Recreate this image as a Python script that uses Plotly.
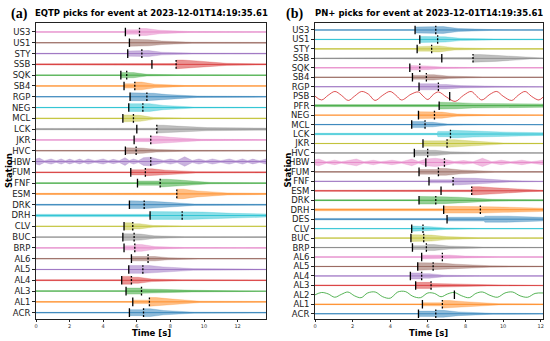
import plotly.graph_objects as go

TAB10 = ["#1f77b4", "#ff7f0e", "#2ca02c", "#d62728", "#9467bd",
         "#8c564b", "#e377c2", "#7f7f7f", "#bcbd22", "#17becf"]

# ---------------- Panel (a): EQTP ----------------
stations_a = ["US3", "US1", "STY", "SSB", "SQK", "SB4", "RGP", "NEG", "MCL",
              "LCK", "JKR", "HVC", "HBW", "FUM", "FNF", "ESM", "DRK", "DRH",
              "CLV", "BUC", "BRP", "AL6", "AL5", "AL4", "AL3", "AL1", "ACR"]
p_a = [5.32, 5.56, 5.46, 6.90, 5.05, 5.24, 5.60, 5.52, 5.17,
       6.00, 5.84, 5.32, 5.60, 5.64, 6.04, 7.50, 5.56, 6.79,
       5.24, 5.17, 5.24, 5.68, 5.52, 5.10, 5.36, 5.76, 5.56]
s_a = [6.16, 6.30, 6.30, 8.34, 5.40, 5.88, 6.60, 6.36, 5.80,
       7.19, 6.83, 5.96, 6.83, 6.51, 7.39, 8.38, 6.44, 8.70,
       5.76, 5.84, 5.88, 6.67, 6.36, 5.68, 6.28, 6.75, 6.40]
hidden_a = [("US1", "S"), ("HBW", "P"), ("ESM", "P")]
# envelope half-amplitudes (row units): noise, after P, at S, 1 s after S, 3 s after S, end
env_a = [[0.03, 0.25, 0.40, 0.20, 0.05, 0.03],
         [0.03, 0.40, 0.35, 0.20, 0.06, 0.04],
         [0.04, 0.30, 0.35, 0.15, 0.06, 0.05],
         [0.06, 0.10, 0.50, 0.40, 0.12, 0.06],
         [0.03, 0.30, 0.30, 0.10, 0.04, 0.03],
         [0.03, 0.25, 0.45, 0.20, 0.05, 0.03],
         [0.03, 0.45, 0.40, 0.25, 0.08, 0.04],
         [0.03, 0.45, 0.45, 0.25, 0.06, 0.03],
         [0.04, 0.40, 0.35, 0.10, 0.04, 0.04],
         [0.08, 0.10, 0.45, 0.35, 0.18, 0.12],
         [0.03, 0.20, 0.45, 0.30, 0.08, 0.03],
         [0.04, 0.35, 0.30, 0.15, 0.05, 0.04],
         None,
         [0.05, 0.30, 0.40, 0.25, 0.08, 0.06],
         [0.03, 0.25, 0.45, 0.35, 0.08, 0.04],
         [0.07, 0.10, 0.55, 0.35, 0.12, 0.07],
         [0.05, 0.45, 0.40, 0.30, 0.08, 0.05],
         [0.14, 0.45, 0.45, 0.40, 0.25, 0.18],
         [0.03, 0.40, 0.30, 0.10, 0.03, 0.03],
         [0.03, 0.40, 0.35, 0.15, 0.05, 0.04],
         [0.03, 0.25, 0.40, 0.15, 0.04, 0.03],
         [0.03, 0.25, 0.25, 0.12, 0.03, 0.03],
         [0.03, 0.45, 0.45, 0.30, 0.10, 0.04],
         [0.05, 0.45, 0.35, 0.15, 0.05, 0.04],
         [0.03, 0.35, 0.25, 0.20, 0.10, 0.04],
         [0.05, 0.20, 0.50, 0.35, 0.08, 0.05],
         [0.04, 0.35, 0.45, 0.25, 0.06, 0.04]]
hbw_a_t = [0, 0.2, 0.5, 0.9, 1.2, 1.5, 1.75, 2.0, 2.3, 2.6,
           2.85, 3.1, 3.5, 4.0, 4.3, 4.6, 4.95, 5.3, 5.55, 5.8,
           6.1, 6.4, 6.8, 7.2, 7.6, 8.0, 8.4, 8.85, 9.3, 9.7,
           10.1, 10.5, 11.0, 11.5, 11.9, 12.3, 12.6, 12.9, 13.3, 13.7]
hbw_a_amp = [0.3, 0.4, 0.1, 0.3, 0.1, 0.3, 0.1, 0.28, 0.1, 0.28,
             0.1, 0.3, 0.1, 0.3, 0.1, 0.25, 0.1, 0.45, 0.12, 0.3,
             0.12, 0.45, 0.5, 0.35, 0.12, 0.3, 0.12, 0.55, 0.12, 0.3,
             0.1, 0.3, 0.1, 0.3, 0.1, 0.3, 0.1, 0.28, 0.1, 0.3]

# ---------------- Panel (b): PN+ ----------------
stations_b = ["US3", "US1", "STY", "SSB", "SQK", "SB4", "RGP", "PSB", "PFR",
              "NEG", "MCL", "LCK", "JKR", "HVC", "HBW", "FUM", "FNF", "ESM",
              "DRK", "DRH", "DES", "CLV", "BUC", "BRP", "AL6", "AL5", "AL4",
              "AL3", "AL2", "AL1", "ACR"]
p_b = [5.32, 5.57, 5.43, 6.74, 5.04, 5.18, 5.53, 7.16, 6.60,
       5.50, 5.14, 6.50, 5.74, 5.28, 5.89, 5.53, 6.06, 6.70,
       5.53, 6.84, 7.02, 5.14, 5.10, 5.18, 5.67, 5.46, 5.07,
       5.35, 7.41, 5.71, 5.50]
s_b = [6.42, 6.52, 6.20, 8.40, 5.57, 5.92, 6.56, 7.16, 7.20,
       6.35, 5.85, 7.20, 7.02, 5.99, 6.88, 6.56, 7.34, 8.33,
       6.42, 8.79, 9.00, 5.74, 5.78, 5.92, 6.77, 6.28, 5.67,
       6.17, 7.41, 6.77, 6.42]
hidden_b = [("PSB", "S"), ("PFR", "S"), ("LCK", "P"), ("DES", "S"), ("AL2", "S")]
env_b = [[0.03, 0.40, 0.45, 0.20, 0.05, 0.04],
         [0.03, 0.40, 0.35, 0.15, 0.06, 0.04],
         [0.05, 0.30, 0.40, 0.15, 0.05, 0.05],
         [0.04, 0.12, 0.50, 0.40, 0.10, 0.05],
         [0.03, 0.30, 0.25, 0.10, 0.03, 0.03],
         [0.03, 0.25, 0.35, 0.15, 0.04, 0.03],
         [0.03, 0.40, 0.30, 0.15, 0.08, 0.04],
         None,
         [0.14, 0.45, 0.40, 0.30, 0.22, 0.22],
         [0.03, 0.45, 0.40, 0.15, 0.04, 0.03],
         [0.03, 0.40, 0.30, 0.08, 0.03, 0.03],
         [0.10, 0.35, 0.50, 0.40, 0.25, 0.18],
         [0.03, 0.35, 0.50, 0.35, 0.08, 0.04],
         [0.04, 0.35, 0.35, 0.15, 0.06, 0.04],
         None,
         [0.05, 0.30, 0.45, 0.25, 0.06, 0.05],
         [0.03, 0.20, 0.45, 0.40, 0.10, 0.04],
         [0.07, 0.12, 0.55, 0.40, 0.12, 0.07],
         [0.06, 0.50, 0.45, 0.40, 0.12, 0.08],
         [0.14, 0.45, 0.40, 0.35, 0.25, 0.20],
         [0.10, 0.25, 0.40, 0.40, 0.25, 0.22],
         [0.03, 0.35, 0.25, 0.10, 0.03, 0.03],
         [0.03, 0.45, 0.40, 0.20, 0.04, 0.03],
         [0.03, 0.25, 0.40, 0.20, 0.06, 0.03],
         [0.03, 0.25, 0.25, 0.12, 0.03, 0.03],
         [0.03, 0.50, 0.45, 0.30, 0.10, 0.04],
         [0.03, 0.40, 0.30, 0.10, 0.03, 0.03],
         [0.04, 0.40, 0.25, 0.20, 0.08, 0.04],
         None,
         [0.05, 0.20, 0.50, 0.35, 0.08, 0.05],
         [0.03, 0.35, 0.45, 0.25, 0.06, 0.04]]
hbw_b_t = [0, 0.2, 0.6, 1.05, 1.4, 1.75, 2.2, 2.6, 3.1, 3.5,
           4.1, 4.6, 5.15, 5.5, 5.9, 6.4, 6.9, 7.4, 7.9, 8.4,
           8.9, 9.4, 9.9, 10.4, 11.0, 11.5, 12.12]
hbw_b_amp = [0.35, 0.45, 0.1, 0.3, 0.1, 0.25, 0.45, 0.1, 0.3, 0.1,
             0.3, 0.1, 0.45, 0.12, 0.45, 0.55, 0.4, 0.12, 0.25, 0.1,
             0.55, 0.1, 0.3, 0.1, 0.3, 0.1, 0.3]
psb_t = [0, 0.35, 0.7, 1.06, 1.4, 1.77, 2.1, 2.48, 2.85, 3.19,
         3.6, 3.99, 4.3, 4.6, 5.1, 5.5, 5.75, 6.0, 6.3, 6.56,
         7.0, 7.45, 7.9, 8.3, 8.6, 8.87, 9.3, 9.66, 10.0, 10.46,
         10.8, 11.17, 11.5, 11.9, 12.12]
psb_y = [0.0, -0.4, 0.1, 0.5, 0.1, -0.45, 0.0, 0.5, 0.2, -0.45,
         0.1, 0.5, 0.1, -0.4, 0.2, 0.45, 0.0, -0.35, 0.2, 0.45,
         -0.1, -0.55, 0.1, 0.5, 0.0, -0.4, 0.2, 0.5, 0.0, -0.45,
         0.1, 0.5, 0.0, -0.4, -0.1]
al2_t = [0, 0.35, 0.7, 1.05, 1.4, 1.75, 2.1, 2.45, 2.8, 3.2,
         3.6, 4.0, 4.4, 4.8, 5.2, 5.6, 6.0, 6.35, 6.7, 7.05,
         7.4, 7.8, 8.2, 8.55, 8.9, 9.3, 9.7, 10.1, 10.5, 10.9,
         11.3, 11.7, 12.12]
al2_y = [0.0, 0.25, 0.1, -0.25, 0.05, 0.3, -0.1, -0.3, 0.2, 0.3,
         -0.2, -0.35, 0.3, 0.35, -0.15, -0.3, 0.2, 0.15, -0.2, 0.1,
         0.25, -0.1, -0.3, 0.15, 0.3, -0.05, -0.25, 0.2, 0.3, -0.1,
         -0.25, 0.15, 0.2]

xticks = [0, 2, 4, 6, 8, 10, 12]
XEND_A = 13.69
XEND_B = 12.12
AMP = 0.8  # display scale of envelopes


def rgba(hexc, a):
    h = hexc.lstrip("#")
    return "rgba(%d,%d,%d,%.2f)" % (int(h[0:2], 16), int(h[2:4], 16), int(h[4:6], 16), a)


fig = go.Figure()


def band(t, amp, yc, col, xa, ya):
    xs = list(t) + list(t)[::-1]
    ys = [yc + AMP * a for a in amp] + [yc - AMP * a for a in amp][::-1]
    fig.add_trace(go.Scatter(x=xs, y=ys, fill="toself", mode="lines",
                             fillcolor=rgba(col, 0.5),
                             line=dict(color=rgba(col, 0.6), width=0.4),
                             hoverinfo="skip", showlegend=False, xaxis=xa, yaxis=ya))


def baseline(yc, col, xend, xa, ya):
    fig.add_trace(go.Scatter(x=[0, xend], y=[yc, yc], mode="lines",
                             line=dict(color=rgba(col, 0.75), width=1),
                             hoverinfo="skip", showlegend=False, xaxis=xa, yaxis=ya))


def panel(stations, p, s, hidden, env, specials, xend, xa, ya, half):
    n = len(stations)
    px, py, sx, sy = [], [], [], []
    for i, st in enumerate(stations):
        yc = n - 1 - i
        col = TAB10[yc % 10]
        e = env[i]
        if st in specials:
            kind, t, v = specials[st]
            if kind == "band":
                baseline(yc, col, xend, xa, ya)
                band(t, v, yc, col, xa, ya)
            else:
                fig.add_trace(go.Scatter(x=t, y=[yc + a for a in v], mode="lines",
                                         line=dict(color=rgba(col, 0.8), width=1, shape="spline"),
                                         hoverinfo="skip", showlegend=False, xaxis=xa, yaxis=ya))
        else:
            baseline(yc, col, xend, xa, ya)
            nz, aP, aS, a1, a3, aE = e
            t = [0, p[i], p[i] + 0.03, s[i], s[i] + 0.03, s[i] + 0.4, s[i] + 1.2, s[i] + 3.0, xend]
            a = [nz, nz, aP, aP, aS, aS, a1, a3, aE]
            tt, aa = [], []
            for tk, ak in zip(t, a):
                if tk <= xend:
                    tt.append(tk)
                    aa.append(ak)
            band(tt, aa, yc, col, xa, ya)
        if (st, "P") not in hidden:
            px += [p[i], p[i], None]
            py += [yc - half, yc + half, None]
        if (st, "S") not in hidden:
            sx += [s[i], s[i], None]
            sy += [yc - half, yc + half, None]
    fig.add_trace(go.Scatter(x=px, y=py, mode="lines", line=dict(color="black", width=1.3),
                             hoverinfo="skip", showlegend=False, xaxis=xa, yaxis=ya))
    fig.add_trace(go.Scatter(x=sx, y=sy, mode="lines",
                             line=dict(color="black", width=1.3, dash="2px,1.5px"),
                             hoverinfo="skip", showlegend=False, xaxis=xa, yaxis=ya))


panel(stations_a, p_a, s_a, hidden_a, env_a,
      {"HBW": ("band", hbw_a_t, hbw_a_amp)}, XEND_A, "x", "y", 0.4)
panel(stations_b, p_b, s_b, hidden_b, env_b,
      {"HBW": ("band", hbw_b_t, hbw_b_amp),
       "PSB": ("line", psb_t, psb_y),
       "AL2": ("line", al2_t, al2_y)}, XEND_B, "x2", "y2", 0.45)

FONT = "DejaVu Sans"
ydom = [1 - 318.5 / 341, 1 - 22.7 / 341]
axis_common = dict(showline=True, mirror=True, linecolor="#222", linewidth=0.9,
                   showgrid=False, zeroline=False, ticks="outside", ticklen=3,
                   tickcolor="#222", tickwidth=0.8, automargin=False)
fig.update_layout(
    width=550, height=341, margin=dict(l=0, r=0, t=0, b=0, autoexpand=False),
    paper_bgcolor="white", plot_bgcolor="white",
    xaxis=dict(domain=[36 / 550, 266 / 550], range=[0, XEND_A], tickvals=xticks,
               tickfont=dict(size=5, family=FONT, color="#333"), anchor="y", **axis_common),
    yaxis=dict(domain=ydom, range=[-0.54, len(stations_a) - 1 + 0.86],
               tickvals=list(range(len(stations_a))), ticktext=stations_a[::-1],
               tickfont=dict(size=8.5, family=FONT, color="#222"), anchor="x", **axis_common),
    xaxis2=dict(domain=[315 / 550, 543 / 550], range=[0, XEND_B], tickvals=xticks,
                tickfont=dict(size=5, family=FONT, color="#333"), anchor="y2", **axis_common),
    yaxis2=dict(domain=ydom, range=[-0.5, len(stations_b) - 1 + 0.77],
                tickvals=list(range(len(stations_b))), ticktext=stations_b[::-1],
                tickfont=dict(size=8.5, family=FONT, color="#222"), anchor="x2", **axis_common),
)

ann = [
    dict(text="<b>EQTP picks for event at 2023-12-01T14:19:35.61</b>", x=151 / 550, y=1 - 13 / 341,
         font=dict(size=8.5, family=FONT, color="black")),
    dict(text="<b>PN+ picks for event at 2023-12-01T14:19:35.61</b>", x=428.7 / 550, y=1 - 13 / 341,
         font=dict(size=8.5, family=FONT, color="black")),
    dict(text="<b>(a)</b>", x=19.5 / 550, y=1 - 14 / 341,
         font=dict(size=14, family="Liberation Serif", color="black")),
    dict(text="<b>(b)</b>", x=294.5 / 550, y=1 - 14 / 341,
         font=dict(size=14, family="Liberation Serif", color="black")),
    dict(text="<b>Time [s]</b>", x=151 / 550, y=1 - 333 / 341,
         font=dict(size=8.5, family=FONT, color="black")),
    dict(text="<b>Time [s]</b>", x=428.7 / 550, y=1 - 333 / 341,
         font=dict(size=8.5, family=FONT, color="black")),
    dict(text="<b>Station</b>", x=8.5 / 550, y=1 - 170.6 / 341, textangle=-90,
         font=dict(size=8.5, family=FONT, color="black")),
    dict(text="<b>Station</b>", x=288 / 550, y=1 - 170.6 / 341, textangle=-90,
         font=dict(size=8.5, family=FONT, color="black")),
]
for a in ann:
    a.update(xref="paper", yref="paper", showarrow=False, xanchor="center", yanchor="middle")
    fig.add_annotation(**a)

fig.write_html("out.html", config={"displayModeBar": False},
               post_script="document.body.style.margin='0';document.body.style.padding='0';")
